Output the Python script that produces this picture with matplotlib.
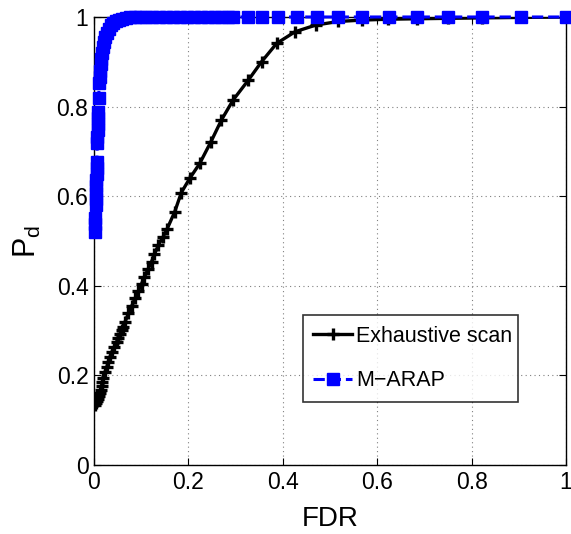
import matplotlib
matplotlib.use("Agg")
import matplotlib.pyplot as plt

plt.rcParams['font.family'] = ['Liberation Sans', 'DejaVu Sans']

# Exhaustive scan (black)
exh_fdr = [0.003, 0.005, 0.007, 0.009, 0.011, 0.013, 0.014, 0.016, 0.018, 0.020,
           0.023, 0.027, 0.030, 0.034, 0.038, 0.043, 0.048, 0.051, 0.055, 0.059,
           0.062, 0.066, 0.073, 0.080, 0.087, 0.094, 0.101, 0.107, 0.115, 0.122,
           0.128, 0.136, 0.146, 0.155, 0.171, 0.185, 0.203, 0.224, 0.248, 0.270,
           0.295, 0.327, 0.355, 0.387, 0.426, 0.470, 0.518, 0.567, 0.623, 0.684,
           0.750, 0.823, 0.904, 1.0]
exh_pd = [0.135, 0.138, 0.142, 0.147, 0.153, 0.160, 0.168, 0.176, 0.185, 0.195,
          0.207, 0.218, 0.230, 0.242, 0.253, 0.264, 0.275, 0.284, 0.292, 0.301,
          0.309, 0.320, 0.339, 0.355, 0.372, 0.388, 0.405, 0.420, 0.438, 0.454,
          0.470, 0.490, 0.508, 0.527, 0.565, 0.608, 0.640, 0.673, 0.722, 0.770,
          0.815, 0.859, 0.900, 0.941, 0.967, 0.982, 0.990, 0.993, 0.995, 0.996,
          0.997, 0.998, 0.999, 1.0]

# M-ARAP (blue)
arap_fdr = [0.002, 0.003, 0.003,
            0.004, 0.004, 0.005, 0.005, 0.005, 0.006, 0.006, 0.006,
            0.007, 0.007, 0.008, 0.008, 0.008, 0.009,
            0.010,
            0.011, 0.012, 0.013, 0.014, 0.015, 0.017, 0.019, 0.021, 0.024, 0.027,
            0.031, 0.035, 0.040, 0.046, 0.053, 0.060, 0.068, 0.077, 0.087, 0.098,
            0.110, 0.123, 0.137, 0.152, 0.167, 0.182, 0.197, 0.212, 0.227, 0.242,
            0.257, 0.270, 0.284, 0.295, 0.327, 0.355, 0.390, 0.430, 0.472, 0.518,
            0.567, 0.624, 0.684, 0.750, 0.823, 0.904, 1.0]
arap_pd = [0.521, 0.538, 0.551,
           0.580, 0.594, 0.608, 0.622, 0.636, 0.650, 0.663, 0.676,
           0.719, 0.733, 0.747, 0.761, 0.775, 0.788,
           0.819,
           0.852, 0.866, 0.880, 0.894, 0.907, 0.920, 0.932, 0.944, 0.955, 0.965,
           0.974, 0.981, 0.987, 0.991, 0.994, 0.996, 0.998, 0.999, 0.999, 1.0,
           1.0, 1.0, 1.0, 1.0, 1.0, 1.0, 1.0, 1.0, 1.0, 1.0,
           1.0, 1.0, 1.0, 1.0, 1.0, 1.0, 1.0, 1.0, 1.0, 1.0,
           1.0, 1.0, 1.0, 1.0, 1.0, 1.0, 1.0]

ticks = [0, 0.2, 0.4, 0.6, 0.8, 1]
tick_labels = ['0', '0.2', '0.4', '0.6', '0.8', '1']

fig = plt.figure(figsize=(5.71, 5.34), dpi=100)
ax = fig.add_axes([0.1646, 0.1292, 0.8266, 0.839])

ax.plot(exh_fdr, exh_pd, color='black', linestyle='-', linewidth=2.4,
        marker='+', markersize=8, markeredgewidth=2.4, label='Exhaustive scan',
        zorder=3)
ax.plot(arap_fdr, arap_pd, color='#0000ff', linestyle='--', linewidth=2.2,
        marker='s', markersize=8.5, markeredgewidth=1.0, label='M\u2212ARAP',
        zorder=4, clip_on=False)

ax.set_xlim(0, 1)
ax.set_ylim(0, 1)
ax.set_xticks(ticks)
ax.set_xticklabels(tick_labels)
ax.set_yticks(ticks)
ax.set_yticklabels(tick_labels)
ax.tick_params(direction='in', top=True, right=True, labelsize=16.5, length=5,
               width=0.8, pad=4)
ax.grid(True, linestyle=(0, (1, 3)), color='#808080', linewidth=0.8)
for sp in ax.spines.values():
    sp.set_linewidth(1.0)
    sp.set_color('black')

ax.set_xlabel('FDR', fontsize=20, labelpad=9)
ax.set_ylabel('P$_\\mathregular{d}$', fontsize=22, labelpad=10)

leg = ax.legend(loc='upper left', bbox_to_anchor=(0.442, 0.335, 0.456, 0.0),
                mode='expand', fontsize=15.5, frameon=True, fancybox=False,
                edgecolor='black', handlelength=1.8, handletextpad=0.2,
                borderpad=0.5, labelspacing=1.1, borderaxespad=0)
leg.get_frame().set_linewidth(1.2)

fig.savefig('out.png', dpi=100)
